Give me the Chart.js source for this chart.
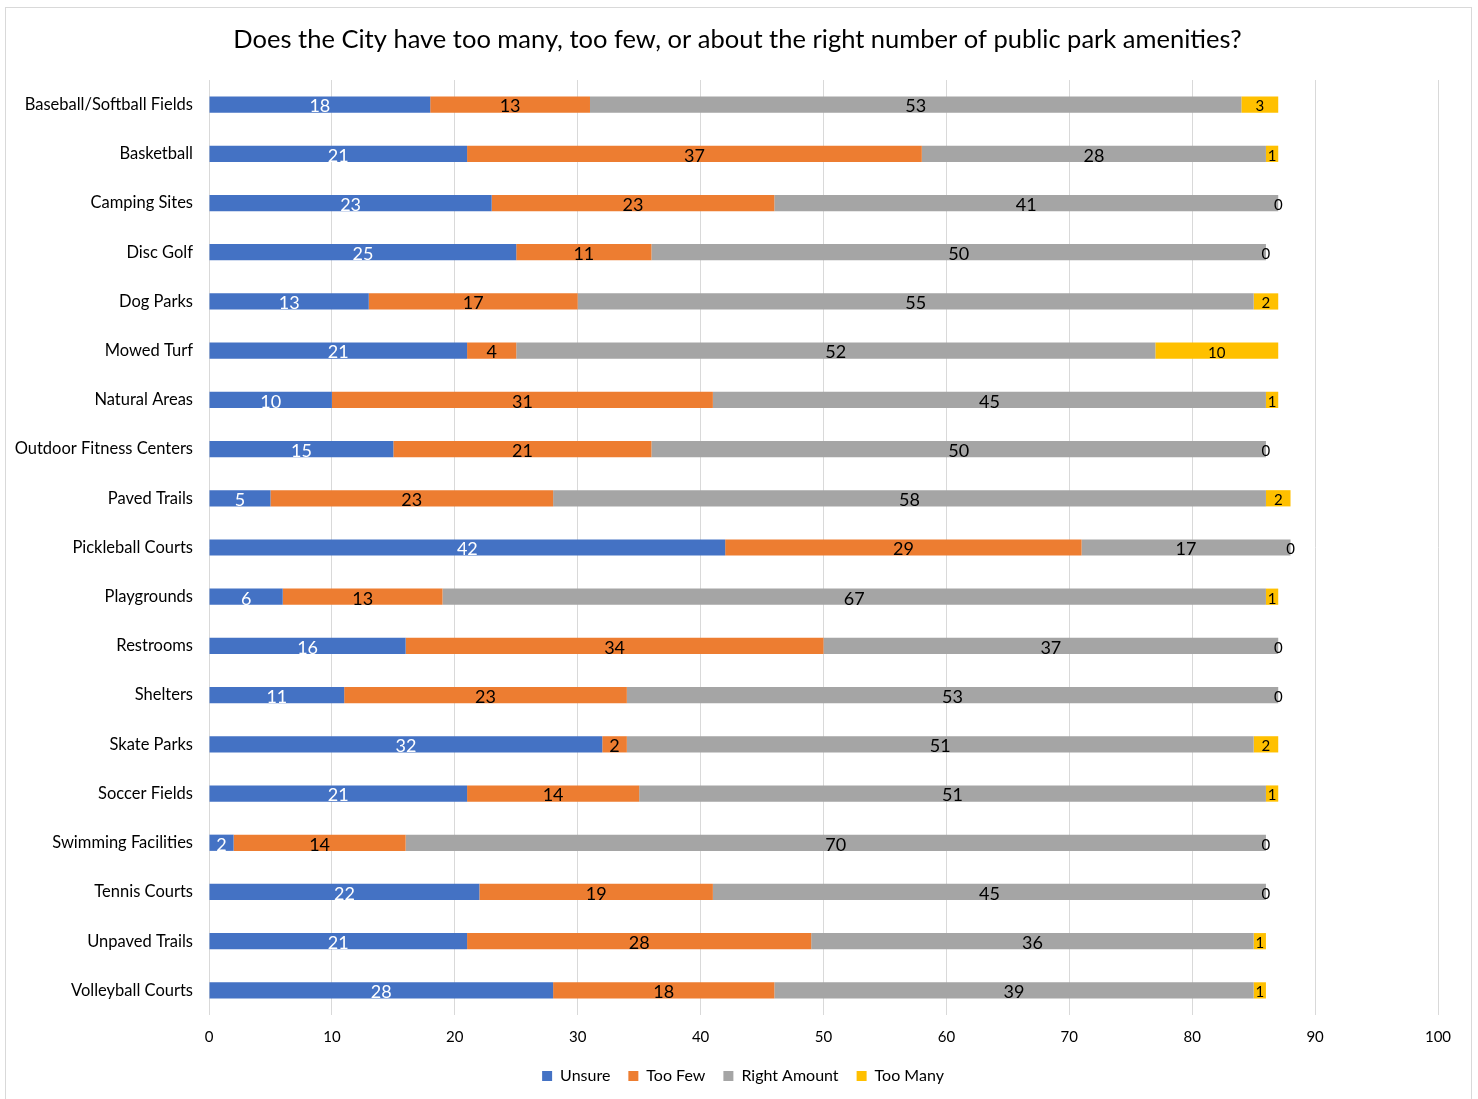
<!DOCTYPE html>
<html>
<head>
<meta charset="utf-8">
<script src="https://cdn.jsdelivr.net/npm/chart.js@4/dist/chart.umd.min.js"></script>
<style>
  html, body { margin: 0; padding: 0; background: #fff; }
  #wrap { position: relative; width: 1478px; height: 1099px; }
  canvas { display: block; }
</style>
</head>
<body>
<div id="wrap"><canvas id="c" width="1478" height="1099"></canvas></div>
<script>
const titleText = 'Does the City have too many, too few, or about the right number of public park amenities?';
const categories = [
  'Baseball/Softball Fields', 'Basketball', 'Camping Sites', 'Disc Golf', 'Dog Parks',
  'Mowed Turf', 'Natural Areas', 'Outdoor Fitness Centers', 'Paved Trails', 'Pickleball Courts',
  'Playgrounds', 'Restrooms', 'Shelters', 'Skate Parks', 'Soccer Fields',
  'Swimming Facilities', 'Tennis Courts', 'Unpaved Trails', 'Volleyball Courts'
];
const unsure      = [18, 21, 23, 25, 13, 21, 10, 15, 5, 42, 6, 16, 11, 32, 21, 2, 22, 21, 28];
const tooFew      = [13, 37, 23, 11, 17, 4, 31, 21, 23, 29, 13, 34, 23, 2, 14, 14, 19, 28, 18];
const rightAmount = [53, 28, 41, 50, 55, 52, 45, 50, 58, 17, 67, 37, 53, 51, 51, 70, 45, 36, 39];
const tooMany     = [3, 1, 0, 0, 2, 10, 1, 0, 2, 0, 1, 0, 0, 2, 1, 0, 0, 1, 1];
const xTicks = [0, 10, 20, 30, 40, 50, 60, 70, 80, 90, 100];

const FONT = 'Lato, "Open Sans", sans-serif';

const labelPlugin = {
  id: 'barLabels',
  afterDatasetsDraw(chart) {
    const ctx = chart.ctx;
    ctx.save();
    ctx.textAlign = 'center';
    ctx.textBaseline = 'middle';
    chart.data.datasets.forEach((ds, di) => {
      const meta = chart.getDatasetMeta(di);
      if (meta.hidden) return;
      ctx.fillStyle = ds.labelColor;
      ctx.font = ds.labelSize + 'px ' + FONT;
      meta.data.forEach((el, i) => {
        const v = ds.data[i];
        const x = (el.x + el.base) / 2;
        ctx.fillText(String(v), x, el.y + 2);
      });
    });
    ctx.restore();
  }
};

const framePlugin = {
  id: 'frame',
  afterLayout(chart) {
    // centre the legend under the whole frame rather than the padded box
    if (chart.legend) {
      chart.legend.left += 24;
      chart.legend.right += 24;
    }
  },
  beforeDraw(chart) {
    const ctx = chart.ctx;
    ctx.save();
    ctx.fillStyle = '#ffffff';
    ctx.fillRect(0, 0, chart.width, chart.height);
    ctx.strokeStyle = '#d9d9d9';
    ctx.lineWidth = 1;
    ctx.strokeRect(5.5, 7.5, 1466, 1100);
    ctx.restore();
  },
  afterDraw(chart) {
    const ctx = chart.ctx;
    ctx.save();
    ctx.fillStyle = '#000000';
    ctx.font = '25.5px ' + FONT;
    ctx.textAlign = 'center';
    ctx.textBaseline = 'middle';
    ctx.fillText(titleText, 737.5, 40);
    ctx.restore();
  }
};

new Chart(document.getElementById('c'), {
  type: 'bar',
  data: {
    labels: categories,
    datasets: [
      { label: 'Unsure', data: unsure, backgroundColor: '#4472C4', labelColor: '#ffffff', labelSize: 18 },
      { label: 'Too Few', data: tooFew, backgroundColor: '#ED7D31', labelColor: '#000000', labelSize: 18 },
      { label: 'Right Amount', data: rightAmount, backgroundColor: '#A5A5A5', labelColor: '#000000', labelSize: 18 },
      { label: 'Too Many', data: tooMany, backgroundColor: '#FFC000', labelColor: '#000000', labelSize: 15 }
    ]
  },
  options: {
    indexAxis: 'y',
    responsive: false,
    animation: false,
    devicePixelRatio: 1,
    datasets: { bar: { barPercentage: 0.66, categoryPercentage: 0.5, borderWidth: 0 } },
    layout: { padding: { left: 0, right: 40, top: 80, bottom: 5 } },
    plugins: {
      title: { display: false },
      legend: {
        position: 'bottom',
        labels: {
          color: '#000000',
          font: { family: FONT, size: 16 },
          boxWidth: 10,
          boxHeight: 10,
          padding: 18
        }
      },
      tooltip: { enabled: false }
    },
    scales: {
      x: {
        stacked: true,
        min: 0,
        max: 100,
        afterBuildTicks(scale) { scale.ticks = xTicks.map(v => ({ value: v })); },
        afterFit(scale) { scale.height = 35; },
        grid: { color: '#d9d9d9', lineWidth: 1, drawTicks: false },
        border: { display: false },
        ticks: { color: '#000000', font: { family: FONT, size: 15 }, padding: 13 }
      },
      y: {
        stacked: true,
        afterFit(scale) { scale.width = 209; },
        grid: { display: false, drawTicks: false },
        border: { display: false },
        ticks: { color: '#000000', font: { family: FONT, size: 16.5 }, padding: 16 }
      }
    }
  },
  plugins: [framePlugin, labelPlugin]
});
</script>
</body>
</html>
